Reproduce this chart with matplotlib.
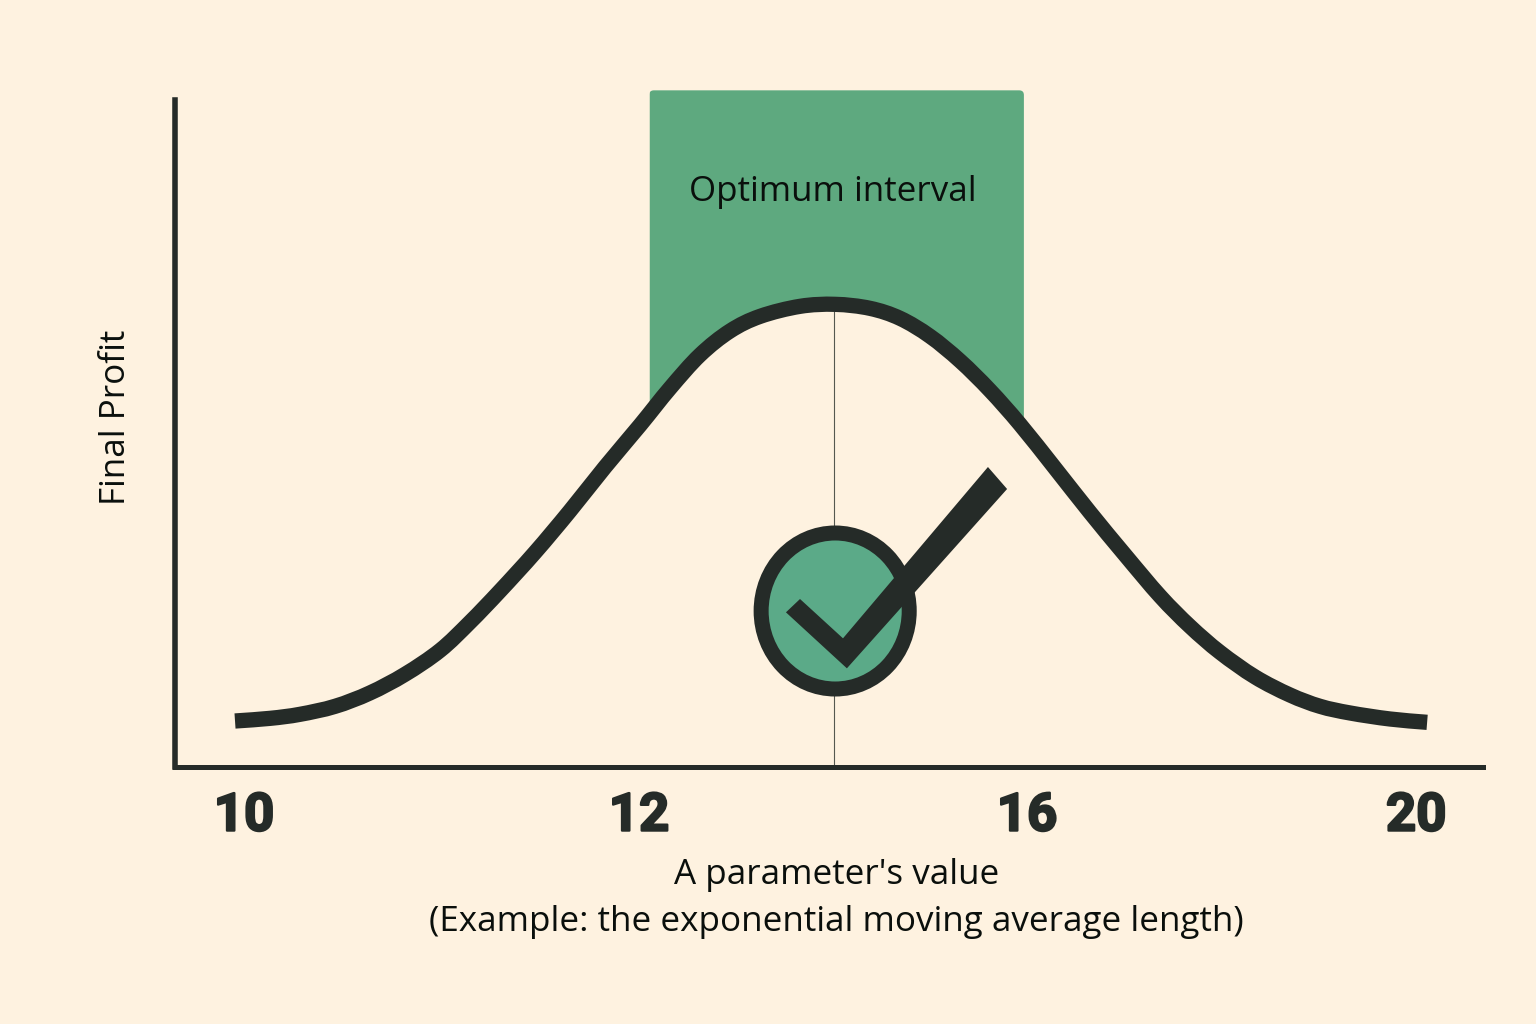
import matplotlib

matplotlib.use("Agg")

import matplotlib.patheffects as pe
import matplotlib.pyplot as plt
import numpy as np
from matplotlib.patches import Ellipse, FancyBboxPatch, PathPatch, Polygon
from matplotlib.path import Path

# Parameter axis: the labelled values are evenly spaced slots, not a linear scale.
tick_slots = [0.0, 1.011, 2.004, 3.0]
tick_labels = ["10", "12", "16", "20"]

curve_slot = [
    -0.023, 0.067, 0.143, 0.233, 0.322, 0.412, 0.502, 0.578, 0.655, 0.745,
    0.834, 0.924, 1.014, 1.090, 1.167, 1.244, 1.321, 1.423, 1.513, 1.602,
    1.679, 1.756, 1.833, 1.909, 1.986, 2.076, 2.165, 2.255, 2.345, 2.421,
    2.498, 2.588, 2.677, 2.754, 2.831, 2.933, 3.028,
]
curve_profit = [
    6.9, 7.3, 7.9, 9.1, 11.1, 13.9, 17.5, 21.7, 26.4, 32.2,
    38.4, 45.0, 51.3, 56.8, 61.8, 65.4, 67.6, 69.1, 69.4, 68.8,
    67.3, 64.6, 60.9, 56.5, 51.4, 44.8, 38.2, 31.8, 25.6, 21.1,
    17.2, 13.5, 10.8, 9.1, 8.1, 7.2, 6.7,
]

interval_start = 1.037
interval_end = 1.996
interval_top = 101.5
peak_slot = 1.51
peak_profit = 69.4

badge_center = (1.513, 23.4)
badge_width = 0.379
badge_height = 23.4
check_slot = [1.387, 1.423, 1.533, 1.904, 1.953, 1.543]
check_profit = [23.2, 25.2, 19.3, 45.0, 41.7, 14.8]

BG = "#FEF2E0"
INK = "#252B28"
TEXT = "#0A0F0C"
GREEN = "#5EA97F"
BADGE_GREEN = "#5BAA88"


def smooth_path(xs, ys):
    """Bezier path through the points, with Catmull-Rom style tangents."""
    pts = np.column_stack([xs, ys])
    tangents = np.gradient(pts, axis=0) / 3.0
    verts = [pts[0]]
    codes = [Path.MOVETO]
    for i in range(len(pts) - 1):
        verts += [pts[i] + tangents[i], pts[i + 1] - tangents[i + 1], pts[i + 1]]
        codes += [Path.CURVE4] * 3
    return Path(verts, codes)


plt.rcParams["font.family"] = ["Open Sans", "DejaVu Sans"]

fig = plt.figure(figsize=(15.36, 10.24), dpi=100, facecolor=BG)
ax = fig.add_axes([175 / 1536, 1 - 767 / 1024, (1483 - 175) / 1536, 700 / 1024])
ax.set_facecolor("none")
ax.set_xlim(-0.1766, 3.171)
ax.set_ylim(0, 105)

# Green band runs from the top of the plot down to the curve
curve_x = np.array(curve_slot)
curve_y = np.array(curve_profit)
inside = (curve_x > interval_start) & (curve_x < interval_end)
band_x = np.r_[interval_start, curve_x[inside], interval_end]
band_y = np.interp(band_x, curve_x, curve_y)
band = ax.fill_between(band_x, band_y, interval_top, color=GREEN, linewidth=0, zorder=1)

# Slightly rounded top corners on the band
band_clip = FancyBboxPatch(
    (interval_start, 0),
    interval_end - interval_start,
    interval_top,
    boxstyle="round,pad=0,rounding_size=0.012",
    mutation_aspect=58,
    facecolor="none",
    edgecolor="none",
)
ax.add_patch(band_clip)
band.set_clip_path(band_clip)

ax.text(1.507, 86.2, "Optimum interval", fontsize=25.2, color=TEXT,
        ha="center", va="center", zorder=4)

ax.plot([peak_slot, peak_slot], [0, peak_profit], color="#55584F", linewidth=0.8, zorder=2)
ax.add_patch(PathPatch(smooth_path(curve_x, curve_y), facecolor="none", edgecolor=INK,
                       linewidth=11, capstyle="butt", joinstyle="round", zorder=3))

ax.add_patch(Ellipse(badge_center, badge_width, badge_height, facecolor=BADGE_GREEN,
                     edgecolor=INK, linewidth=10.8, zorder=4))
ax.add_patch(Polygon(np.column_stack([check_slot, check_profit]), closed=True,
                     facecolor=INK, edgecolor="none", zorder=5))

for side in ("top", "right"):
    ax.spines[side].set_visible(False)
ax.spines["left"].set_color(INK)
ax.spines["left"].set_linewidth(4)
ax.spines["left"].set_bounds(0, 100)
ax.spines["bottom"].set_color(INK)
ax.spines["bottom"].set_linewidth(3.6)

ax.set_yticks([])
ax.set_xticks(tick_slots, tick_labels, family="Roboto", fontsize=38, fontweight="bold",
              color=INK)
ax.tick_params(axis="x", length=0, pad=17)
for label in ax.get_xticklabels():
    label.set_path_effects([pe.withStroke(linewidth=1.6, foreground=INK)])

ax.set_xlabel("A parameter's value\n(Example: the exponential moving average length)",
              fontsize=25.2, color=TEXT, x=0.506, labelpad=12, linespacing=1.5)
ax.set_ylabel("Final Profit", fontsize=25.2, color=TEXT, y=0.5, labelpad=30)

fig.savefig("out.png", dpi=100, facecolor=BG)
